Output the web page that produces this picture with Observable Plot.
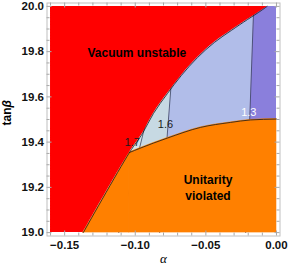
<!DOCTYPE html>
<html><head><meta charset="utf-8">
<script src="https://cdn.jsdelivr.net/npm/d3@7"></script>
<script src="https://cdn.jsdelivr.net/npm/@observablehq/plot@0.6"></script>
<style>body{margin:0;background:#fff;}</style>
</head><body><div id="chart"></div>
<script>
// ---- data ----
const alphaRange = [-0.16, 0];
const tanbRange = [19, 20];
// vacuum-stability boundary (red side), bottom edge -> top edge
const vacuumAlpha = [-0.1368, -0.1041, -0.0949, -0.0871, -0.0772, -0.0673, -0.0559, -0.0439, -0.0319, -0.0205, -0.0128, -0.0066];
const vacuumTanb  = [19.000, 19.354, 19.438, 19.527, 19.615, 19.695, 19.774, 19.841, 19.894, 19.942, 19.973, 20.000];
// red / orange straight edge (bottom edge -> tip)
const edgeAlpha = [-0.1368, -0.1041];
const edgeTanb  = [19.000, 19.354];
// unitarity boundary against the allowed region, tip -> right edge
const unitAlpha = [-0.1041, -0.0970, -0.0772, -0.0538, -0.0326, -0.0184, 0.0000];
const unitTanb  = [19.354, 19.372, 19.418, 19.465, 19.487, 19.498, 19.502];
// contour lines: alpha at tanb = 19 and tanb = 20
const contourTanb = [19, 20];
const contour17 = [-0.1117, -0.0723];
const contour16 = [-0.0827, -0.0703];
const contour13 = [-0.0218, -0.0161];
const contourLabels = ["1.7", "1.6", "1.3"];
const contourLabelAlpha = [-0.1022, -0.0786, -0.0196];
const contourLabelTanb = [19.397, 19.477, 19.532];
const contourLabelColor = ["#1a1a1a", "#1a1a1a", "#ffffff"];
const regionLabels = ["Vacuum unstable", "Unitarity\nviolated"];
const regionLabelAlpha = [-0.0989, -0.0485];
const regionLabelTanb = [19.800, 19.203];
// ticks
const xMajor = [-0.15, -0.10, -0.05, 0.00];
const xMinor = [-0.16, -0.14, -0.13, -0.12, -0.11, -0.09, -0.08, -0.07, -0.06, -0.04, -0.03, -0.02, -0.01];
const yMajor = [19.0, 19.2, 19.4, 19.6, 19.8, 20.0];
const yMinor = [19.05, 19.1, 19.15, 19.25, 19.3, 19.35, 19.45, 19.5, 19.55, 19.65, 19.7, 19.75, 19.85, 19.9, 19.95];

// ---- tables built from the arrays ----
const vacuum = vacuumAlpha.map((a, i) => ({a, tb: vacuumTanb[i], left: alphaRange[0]}));
const edge = edgeAlpha.map((a, i) => ({a, tb: edgeTanb[i], bottom: tanbRange[0]}));
const unit = unitAlpha.map((a, i) => ({a, tb: unitTanb[i], bottom: tanbRange[0]}));
const contours = contourTanb.map((tb, i) => ({tb, lo: alphaRange[0], hi: alphaRange[1], c17: contour17[i], c16: contour16[i], c13: contour13[i]}));
const cLabels = contourLabels.map((t, i) => ({t, a: contourLabelAlpha[i], tb: contourLabelTanb[i], c: contourLabelColor[i]}));
const rLabels = regionLabels.map((t, i) => ({t, a: regionLabelAlpha[i], tb: regionLabelTanb[i]}));

const W = 233, H = 233;
const tickCol = "#a8a8a8";
const font = "Liberation Sans, Arial, Helvetica, sans-serif";
const orange = "#ff8000";

const chart = Plot.plot({
  width: 288, height: 270,
  marginLeft: 46.5, marginRight: 8.5, marginTop: 2.5, marginBottom: 34.5,
  x: {domain: [-0.1625, 0.0025]},
  y: {domain: [18.985, 20.015]},
  style: {fontFamily: font, background: "white"},
  marks: [
    // bands between contour lines
    Plot.areaX(contours, {y: "tb", x1: "lo", x2: "c17", fill: "#d6e5ec"}),
    Plot.areaX(contours, {y: "tb", x1: "c17", x2: "c16", fill: "#c7d9e3"}),
    Plot.areaX(contours, {y: "tb", x1: "c16", x2: "c13", fill: "#b1bde9"}),
    Plot.areaX(contours, {y: "tb", x1: "c13", x2: "hi", fill: "#8a7fdc"}),
    Plot.line(contours, {x: "c17", y: "tb", stroke: "#3e4660", strokeWidth: 0.8}),
    Plot.line(contours, {x: "c16", y: "tb", stroke: "#3e4660", strokeWidth: 0.8}),
    Plot.line(contours, {x: "c13", y: "tb", stroke: "#3e4660", strokeWidth: 0.8}),
    // excluded regions
    Plot.areaY(edge, {x: "a", y1: "bottom", y2: "tb", fill: orange, stroke: orange, strokeWidth: 0.6}),
    Plot.areaY(unit, {x: "a", y1: "bottom", y2: "tb", fill: orange, stroke: orange, strokeWidth: 0.6, curve: "monotone-x"}),
    Plot.areaX(vacuum, {y: "tb", x1: "left", x2: "a", fill: "#ff0000", curve: "catmull-rom"}),
    Plot.line(vacuum, {x: "a", y: "tb", stroke: "#1a1a1a", strokeWidth: 0.8, curve: "catmull-rom"}),
    Plot.line(unit, {x: "a", y: "tb", stroke: "#1a1a1a", strokeWidth: 0.8, curve: "monotone-x"}),
    // labels
    Plot.text(cLabels, {x: "a", y: "tb", text: "t", fill: d => d.c, fontSize: 11}),
    Plot.text(rLabels, {x: "a", y: "tb", text: "t", fill: "black", fontSize: 12, fontWeight: "bold", lineHeight: 1.33}),
    // frame and ticks
    Plot.frame({stroke: "#c0c0c0", strokeWidth: 1}),
    Plot.tickY(yMajor, {y: d => d, insetRight: W - 5, stroke: tickCol}),
    Plot.tickY(yMinor, {y: d => d, insetRight: W - 3, stroke: tickCol}),
    Plot.tickY(yMajor, {y: d => d, insetLeft: W - 5, stroke: tickCol}),
    Plot.tickY(yMinor, {y: d => d, insetLeft: W - 3, stroke: tickCol}),
    Plot.tickX(xMajor, {x: d => d, insetTop: H - 5, stroke: tickCol}),
    Plot.tickX(xMinor, {x: d => d, insetTop: H - 3, stroke: tickCol}),
    Plot.tickX(xMajor, {x: d => d, insetBottom: H - 5, stroke: tickCol}),
    Plot.tickX(xMinor, {x: d => d, insetBottom: H - 3, stroke: tickCol}),
    // axes
    Plot.axisX(xMajor, {tickSize: 0, tickPadding: 5, tickFormat: d3.format(".2f"), label: null, fontSize: 11.5, fontWeight: "bold", fill: "#111"}),
    Plot.axisY(yMajor, {tickSize: 0, tickPadding: 3, tickFormat: d3.format(".1f"), label: null, fontSize: 11.5, fontWeight: "bold", fill: "#111"}),
    Plot.text(["α"], {text: d => d, frameAnchor: "bottom", dy: 27, fontStyle: "italic", fontFamily: "Liberation Serif, DejaVu Serif, serif", fontSize: 13}),
    Plot.text(["tanβ"], {text: d => d, frameAnchor: "left", dx: -40, dy: 6, rotate: -90, fontSize: 12, fontWeight: "bold"})
  ]
});
document.getElementById("chart").appendChild(chart);
// β in italic, as in the reference
d3.select(chart).selectAll("text").filter(function(){ return this.textContent === "tanβ"; }).each(function(){
  const t = d3.select(this); t.text(null);
  t.append("tspan").text("tan");
  t.append("tspan").attr("font-style", "italic").text("β");
});
</script>
</body></html>
